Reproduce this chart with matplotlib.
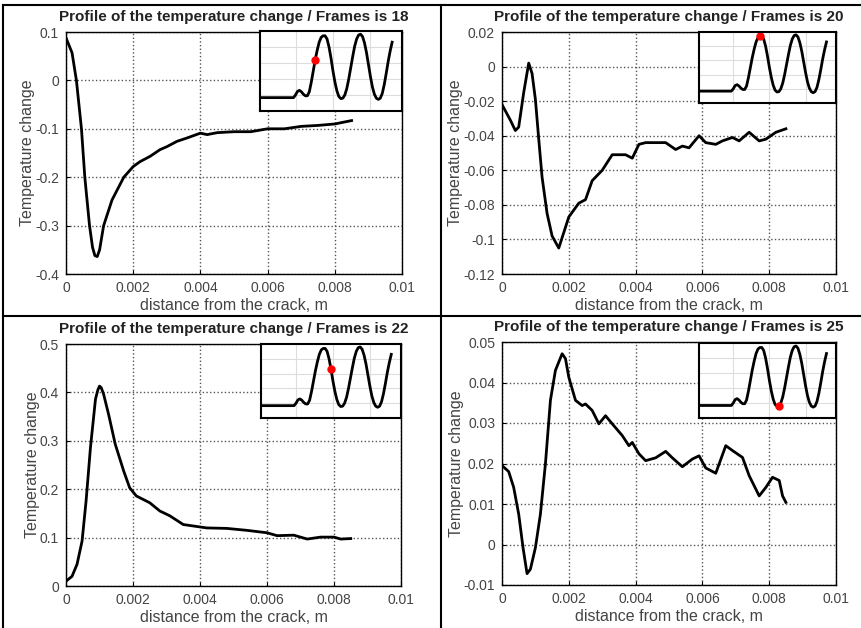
import numpy as np
import matplotlib
matplotlib.use("Agg")
import matplotlib.pyplot as plt
from matplotlib.lines import Line2D

plt.rcParams["font.family"] = ["Liberation Sans", "DejaVu Sans"]

# frames shown in the four panels
frames = [18, 20, 22, 25]

# panel 1 (frame 18)
x1 = [0, 0.00018, 0.00031, 0.00046, 0.00056, 0.0007, 0.00079, 0.00086, 0.00093, 0.001,
      0.00112, 0.00137, 0.00172,
      0.002, 0.0022, 0.0025, 0.0028, 0.003, 0.0033, 0.0036, 0.004, 0.0042, 0.0045,
      0.005, 0.0055, 0.006, 0.0065, 0.007, 0.0075, 0.008, 0.0085]
y1 = [0.088, 0.057, 0.0, -0.1, -0.2, -0.3, -0.345, -0.362, -0.364, -0.35,
      -0.3, -0.247, -0.2,
      -0.178, -0.168, -0.157, -0.143, -0.137, -0.126, -0.119, -0.109, -0.112, -0.108,
      -0.106, -0.106, -0.1, -0.1, -0.095, -0.093, -0.09, -0.083]

# panel 2 (frame 20)
x2 = [0, 0.00025, 0.0004, 0.0005, 0.00065, 0.0008, 0.0009, 0.001, 0.0011, 0.0012,
      0.00135, 0.0015, 0.0017, 0.00185, 0.002, 0.0023, 0.0025, 0.0027, 0.003, 0.0033,
      0.0037, 0.0039, 0.0041, 0.0043, 0.0046, 0.0049, 0.0052, 0.0054, 0.0056, 0.0059,
      0.0061, 0.0064, 0.0066, 0.0069, 0.0071, 0.0074, 0.0077, 0.0079, 0.0082, 0.0085]
y2 = [-0.022, -0.031, -0.037, -0.035, -0.015, 0.002, -0.004, -0.019, -0.042, -0.064,
      -0.085, -0.098, -0.105, -0.096, -0.087, -0.079, -0.077, -0.066, -0.06, -0.051,
      -0.051, -0.053, -0.045, -0.044, -0.044, -0.044, -0.048, -0.046, -0.047, -0.04,
      -0.044, -0.045, -0.043, -0.041, -0.043, -0.038, -0.043, -0.042, -0.038, -0.036]

# panel 3 (frame 22)
x3 = [0, 0.00018, 0.00033, 0.00048, 0.0006, 0.00073, 0.00088, 0.00095, 0.001, 0.00105,
      0.00112, 0.00127,
      0.00147, 0.00172, 0.0019, 0.0021, 0.0025, 0.0028, 0.0031, 0.0035, 0.0038, 0.0042,
      0.0048, 0.0054, 0.006, 0.0063, 0.0068, 0.0072, 0.0076, 0.008, 0.0082, 0.0085]
y3 = [0.01, 0.02, 0.045, 0.093, 0.176, 0.286, 0.386, 0.405, 0.413, 0.41,
      0.397, 0.355,
      0.293, 0.238, 0.203, 0.186, 0.172, 0.155, 0.145, 0.127, 0.124, 0.12,
      0.119, 0.115, 0.11, 0.104, 0.105, 0.097, 0.101, 0.101, 0.097, 0.098]

# panel 4 (frame 25)
x4 = [0, 0.0002, 0.00035, 0.0005, 0.00063, 0.00075, 0.00085, 0.001, 0.00115, 0.0013,
      0.00145, 0.0016, 0.0018, 0.0019, 0.002, 0.0022, 0.0024, 0.0025, 0.0027, 0.0029,
      0.0031, 0.0033, 0.0036, 0.0038, 0.0039, 0.0041, 0.0043, 0.0046, 0.0049, 0.0051,
      0.0054, 0.0057, 0.0059, 0.0061, 0.0064, 0.0067, 0.0069, 0.0072, 0.0074, 0.0077,
      0.0079, 0.0081, 0.0083, 0.0084, 0.0085]
y4 = [0.0195, 0.018, 0.0141, 0.0075, -0.0008, -0.0072, -0.0061, -0.0008, 0.0075, 0.0199,
      0.0356, 0.043, 0.0471, 0.0459, 0.0413, 0.0356, 0.0343, 0.0347, 0.0331, 0.0298,
      0.0318, 0.0298, 0.0269, 0.0244, 0.0252, 0.0224, 0.0207, 0.0214, 0.023, 0.0214,
      0.0192, 0.0211, 0.0219, 0.0189, 0.0176, 0.0244, 0.0232, 0.0215, 0.017, 0.012,
      0.0141, 0.0166, 0.0158, 0.012, 0.0104]

# inset: loading signal vs frame (normalised)
sig_frames = [4, 12.5, 13, 13.5, 14, 14.5, 15, 15.5, 16, 16.5,
              17, 17.5, 18, 18.5, 19, 19.5, 20, 20.5, 21, 21.5,
              22, 22.5, 23, 23.5, 24, 24.5, 25, 25.5, 26, 26.5,
              27, 27.5, 28, 28.5, 29, 29.5, 30, 30.5, 31, 31.5,
              32, 32.5, 33, 33.5, 34, 34.5, 35, 35.5, 36, 36.5,
              37, 37.5]
sig_values = [0.167, 0.167, 0.20, 0.245, 0.258, 0.24, 0.21, 0.19, 0.19, 0.24,
              0.36, 0.50, 0.64, 0.76, 0.86, 0.92, 0.94, 0.94, 0.90, 0.80,
              0.66, 0.50, 0.36, 0.25, 0.18, 0.155, 0.16, 0.20, 0.28, 0.40,
              0.54, 0.68, 0.81, 0.90, 0.95, 0.96, 0.93, 0.85, 0.73, 0.58,
              0.43, 0.30, 0.21, 0.16, 0.145, 0.16, 0.22, 0.33, 0.47, 0.62,
              0.75, 0.86]

xs = [x1, x2, x3, x4]
ys = [y1, y2, y3, y4]
ylims = [(-0.4, 0.1), (-0.12, 0.02), (0, 0.5), (-0.01, 0.05)]
ysteps = [0.1, 0.02, 0.1, 0.01]

W, H = 861, 628


def box(l, r, t, b):
    return [l / W, 1 - b / H, (r - l) / W, (b - t) / H]


def fmt(v, p):
    return "%g" % (round(v, 6) + 0.0)


main_boxes = [(66, 402, 32, 274), (502, 836, 32, 274),
              (66, 401, 344, 586), (502, 836, 342, 585)]
inset_boxes = [(260, 402, 31, 111), (699, 836, 32, 103),
               (261, 401, 344, 418), (699, 836, 343, 418)]

fig = plt.figure(figsize=(W / 100, H / 100), dpi=100)

for i in range(4):
    ax = fig.add_axes(box(*main_boxes[i]))
    ax.plot(xs[i], ys[i], color="black", lw=2)
    ax.set_xlim(0, 0.01)
    ax.set_ylim(*ylims[i])
    ax.set_xticks(np.arange(0, 0.0101, 0.002))
    ax.set_yticks(np.arange(ylims[i][0], ylims[i][1] + ysteps[i] / 2, ysteps[i]))
    ax.xaxis.set_major_formatter(plt.FuncFormatter(fmt))
    ax.yaxis.set_major_formatter(plt.FuncFormatter(fmt))
    ax.grid(True, ls=":", color="#555555", lw=1)
    ax.tick_params(direction="in", length=3, labelsize=10, labelcolor="#444444", pad=5)
    for s in ax.spines.values():
        s.set_linewidth(1)
    ax.set_title("Profile of the temperature change / Frames is %d" % frames[i],
                 fontsize=11, fontweight="bold", color="#222222", pad=8)
    ax.set_xlabel("distance from the crack, m", fontsize=11.5, color="#444444", labelpad=2)
    ax.set_ylabel("Temperature change", fontsize=11.5, color="#444444", labelpad=0)

    ins = fig.add_axes(box(*inset_boxes[i]))
    ins.plot(sig_frames, sig_values, color="black", lw=2)
    k = sig_frames.index(frames[i])
    ins.plot(sig_frames[k], sig_values[k], "o", color="red", ms=5)
    ins.set_xlim(4, 40)
    ins.set_ylim(0, 1.0)
    ins.set_xticks([13, 22.5, 32])
    ins.set_yticks([0.2, 0.4, 0.6, 0.8])
    ins.tick_params(length=0, labelbottom=False, labelleft=False)
    ins.grid(True, color="#dddddd", lw=0.8)
    for s in ins.spines.values():
        s.set_linewidth(1.5)

# table borders round the panels
for (xa, ya, xb, yb) in [(3, 5, 861, 5), (3, 5, 3, 628), (441, 5, 441, 628), (3, 316, 861, 316)]:
    fig.add_artist(Line2D([xa / W, xb / W], [1 - ya / H, 1 - yb / H], color="black", lw=1.5))

fig.savefig("out.png", dpi=100)
